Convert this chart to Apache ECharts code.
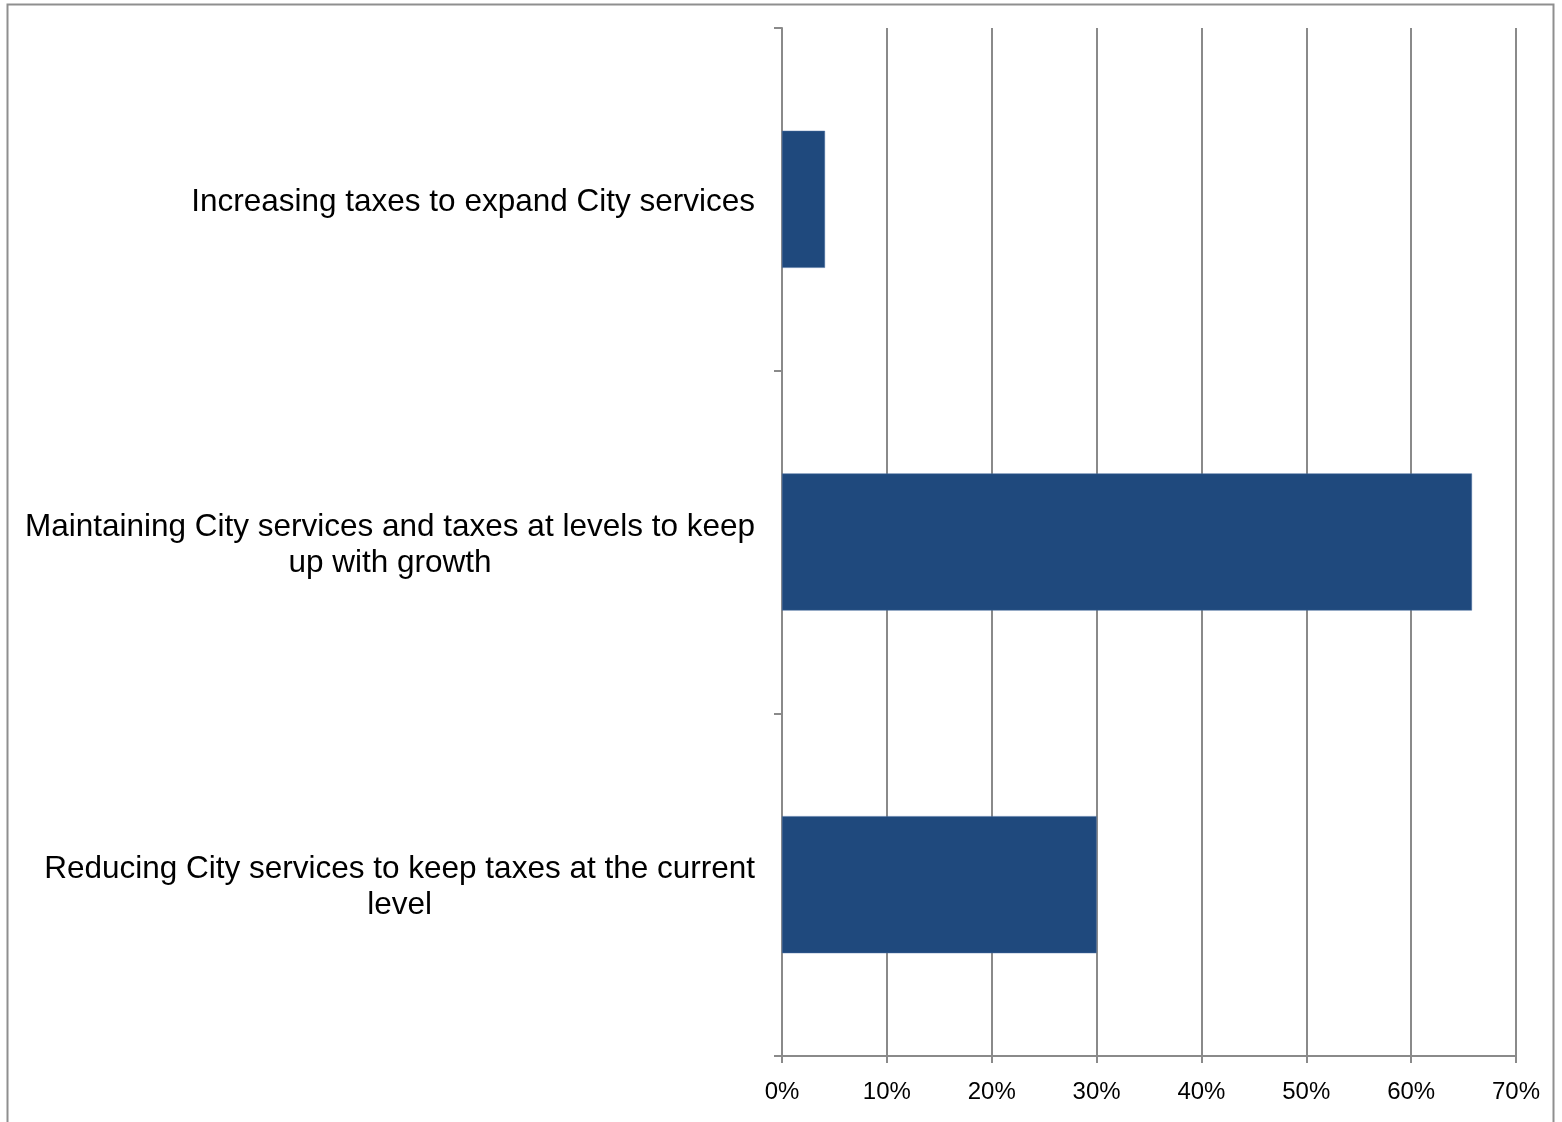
<!DOCTYPE html>
<html>
<head>
<meta charset="utf-8">
<script src="https://cdn.jsdelivr.net/npm/echarts@6/dist/echarts.min.js"></script>
<style>
html,body{margin:0;padding:0;background:#fff;}
#chart{width:1562px;height:1122px;}
</style>
</head>
<body>
<div id="chart"></div>
<script>
const categories = [
  "Increasing taxes to expand City services",
  "Maintaining City services and taxes at levels to keep up with growth",
  "Reducing City services to keep taxes at the current level"
];
const values = [0.041, 0.658, 0.30];
const xTicks = [0, 0.1, 0.2, 0.3, 0.4, 0.5, 0.6, 0.7];

function wrap(s, maxChars) {
  const words = s.split(' ');
  const lines = [];
  let cur = '';
  words.forEach(w => {
    const t = cur ? cur + ' ' + w : w;
    if (t.length > maxChars && cur) { lines.push(cur); cur = w; }
    else cur = t;
  });
  if (cur) lines.push(cur);
  return lines;
}

const FONT = 'Liberation Sans, Arial, sans-serif';
const chart = echarts.init(document.getElementById('chart'), null, {renderer: 'canvas'});
chart.setOption({
  animation: false,
  backgroundColor: '#fff',
  graphic: [{
    type: 'rect',
    shape: {x: 7.5, y: 4.5, width: 1546, height: 1140},
    style: {fill: 'none', stroke: '#8f8f8f', lineWidth: 2},
    z: -1
  }],
  grid: {left: 782, right: 46, top: 28, bottom: 66, containLabel: false},
  xAxis: {
    type: 'value',
    min: xTicks[0],
    max: xTicks[xTicks.length - 1],
    interval: 0.1,
    axisLine: {show: true, lineStyle: {color: '#8a8a8a', width: 2}},
    axisTick: {show: true, length: 7, lineStyle: {color: '#8a8a8a', width: 2}},
    splitLine: {show: true, lineStyle: {color: '#8a8a8a', width: 2}},
    axisLabel: {
      margin: 24,
      fontFamily: FONT,
      fontSize: 24,
      color: '#000',
      formatter: v => Math.round(v * 100) + '%'
    }
  },
  yAxis: {
    type: 'category',
    inverse: true,
    data: categories,
    axisLine: {show: true, lineStyle: {color: '#8a8a8a', width: 2}},
    axisTick: {show: true, length: 8, lineStyle: {color: '#8a8a8a', width: 2}},
    axisLabel: {
      margin: 27,
      fontFamily: FONT,
      fontSize: 31.5,
      color: '#000',
      lineHeight: 36,
      padding: [6, 0, 0, 0],
      formatter: v => wrap(v, 53).map(l => '{c|' + l + '}').join('\n'),
      rich: {
        c: {align: 'center', fontFamily: FONT, fontSize: 31.5, color: '#000', lineHeight: 36}
      }
    }
  },
  series: [{
    type: 'bar',
    data: values,
    barWidth: '40%',
    itemStyle: {color: '#1F497D', borderColor: '#4a6fa0', borderWidth: 0.5}
  }]
});
</script>
</body>
</html>
